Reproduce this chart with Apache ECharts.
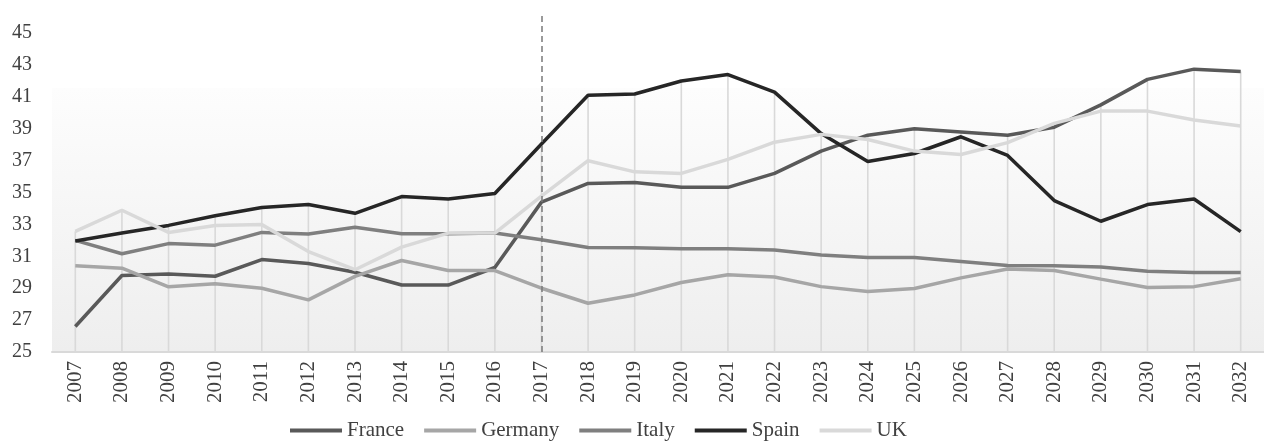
<!DOCTYPE html>
<html>
<head>
<meta charset="utf-8">
<script src="https://cdn.jsdelivr.net/npm/echarts@6/dist/echarts.min.js"></script>
<style>
html,body{margin:0;padding:0;background:#fff;}
#chart{width:1264px;height:441px;}
</style>
</head>
<body>
<div id="chart"></div>
<script>
const years = ['2007','2008','2009','2010','2011','2012','2013','2014','2015','2016','2017','2018','2019','2020','2021','2022','2023','2024','2025','2026','2027','2028','2029','2030','2031','2032'];
const france  = [26.6,29.8,29.9,29.75,30.8,30.55,30.0,29.2,29.2,30.3,34.4,35.57,35.63,35.33,35.33,36.2,37.6,38.6,39.0,38.8,38.6,39.1,40.5,42.1,42.74,42.6];
const germany = [30.41,30.26,29.09,29.28,29.0,28.27,29.74,30.74,30.11,30.11,29.0,28.06,28.58,29.36,29.84,29.7,29.1,28.8,28.98,29.65,30.2,30.11,29.57,29.04,29.1,29.6];
const italy   = [32.0,31.16,31.8,31.7,32.5,32.4,32.83,32.42,32.42,32.46,32.04,31.56,31.54,31.48,31.48,31.4,31.08,30.93,30.93,30.68,30.43,30.41,30.33,30.07,29.99,29.99];
const spain   = [31.96,32.46,32.94,33.55,34.06,34.25,33.7,34.75,34.6,34.94,38.05,41.1,41.18,42.0,42.4,41.3,38.7,36.95,37.45,38.5,37.33,34.5,33.2,34.25,34.6,32.55];
const uk      = [32.57,33.89,32.5,32.94,32.99,31.3,30.16,31.58,32.46,32.46,34.77,37.0,36.3,36.2,37.08,38.16,38.65,38.33,37.6,37.39,38.13,39.34,40.11,40.11,39.55,39.17];
const markYear = '2017';

const names = ['France','Germany','Italy','Spain','UK'];
const colors = ['#595959','#a6a6a6','#7f7f7f','#262626','#d9d9d9'];
const datasets = [france, germany, italy, spain, uk];

// drop lines: from axis up to the highest series value of each year
const dropTop = years.map((_, j) => Math.max(...datasets.map(d => d[j])));

const chart = echarts.init(document.getElementById('chart'));
const font = 'Liberation Serif';

const series = [{
  name: 'drop',
  type: 'bar',
  data: dropTop,
  barWidth: 1.6,
  silent: true,
  itemStyle: { color: '#d9d9d9' },
  z: 1
}].concat(names.map((n, i) => ({
  name: n,
  type: 'line',
  data: datasets[i],
  symbol: 'none',
  smooth: false,
  lineStyle: { color: colors[i], width: 3.5 },
  itemStyle: { color: colors[i] },
  z: 3,
  markLine: i === 0 ? {
    silent: true,
    symbol: 'none',
    label: { show: false },
    lineStyle: { color: '#7a7a7a', type: [6, 4], width: 1.5 },
    data: [{ xAxis: markYear }]
  } : undefined
})));

chart.setOption({
  animation: false,
  backgroundColor: '#ffffff',
  grid: {
    left: 52, right: 0, top: 14, bottom: 89,
    show: true,
    borderWidth: 0,
    backgroundColor: new echarts.graphic.LinearGradient(0, 0, 0, 1, [
      { offset: 0, color: '#ffffff' },
      { offset: 0.218, color: '#ffffff' },
      { offset: 0.22, color: '#fdfdfd' },
      { offset: 1, color: '#eeeeee' }
    ])
  },
  legend: {
    bottom: -5,
    left: 285,
    icon: 'rect',
    itemWidth: 52,
    itemHeight: 4,
    itemGap: 20,
    textStyle: { fontFamily: font, fontSize: 21, color: '#404040', padding: [0, 0, 0, 0] },
    data: names
  },
  xAxis: {
    type: 'category',
    data: years,
    boundaryGap: true,
    axisLine: { show: true, lineStyle: { color: '#d9d9d9', width: 2 } },
    axisTick: { show: false },
    axisLabel: {
      rotate: 90,
      margin: 9,
      fontFamily: font,
      fontSize: 21,
      color: '#404040',
      interval: 0
    },
    splitLine: { show: false }
  },
  yAxis: {
    type: 'value',
    min: 25,
    max: 46.2,
    interval: 1,
    axisLine: { show: false },
    axisTick: { show: false },
    splitLine: { show: false },
    axisLabel: {
      margin: 20,
      fontFamily: font,
      fontSize: 20,
      color: '#404040',
      formatter: function (v) {
        return (Number.isInteger(v) && v % 2 === 1) ? String(v) : '';
      }
    }
  },
  series: series
});
</script>
</body>
</html>
